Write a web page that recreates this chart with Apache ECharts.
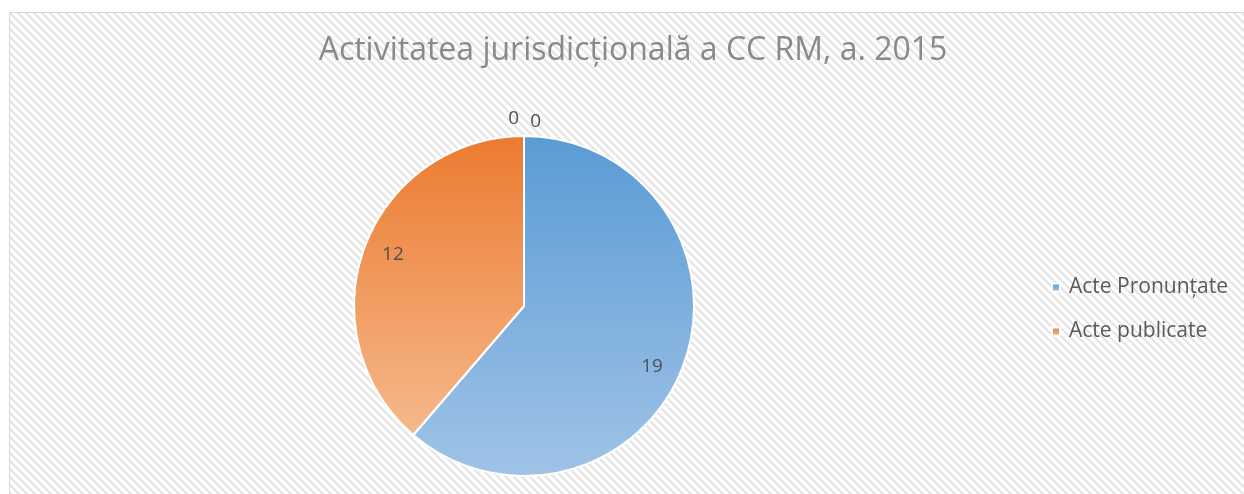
<!DOCTYPE html>
<html>
<head>
<meta charset="utf-8">
<script src="https://cdn.jsdelivr.net/npm/echarts@6/dist/echarts.min.js"></script>
<style>
  body { margin: 0; background: #fff; }
  #wrap { position: absolute; left: 9px; top: 12px; width: 1235px; height: 482px;
          border-left: 1px solid #d9d9d9; border-top: 1px solid #d9d9d9; }
  #chart { width: 1235px; height: 482px; }
</style>
</head>
<body>
<div id="wrap"><div id="chart"></div></div>
<script>
var titleText = 'Activitatea jurisdicțională a CC RM, a. 2015';
var categories = ['', 'Acte Pronunțate', 'Acte publicate', ' '];
var values = [0, 19, 12, 0];
var legendNames = ['Acte Pronunțate', 'Acte publicate'];

// hatched background tile
var tile = document.createElement('canvas');
tile.width = 8; tile.height = 8;
var ctx = tile.getContext('2d');
ctx.fillStyle = '#ffffff';
ctx.fillRect(0, 0, 8, 8);
ctx.strokeStyle = '#e4e4e4';
ctx.lineWidth = 2.2;
ctx.beginPath();
ctx.moveTo(-2, -2); ctx.lineTo(10, 10);
ctx.moveTo(-10, -2); ctx.lineTo(2, 10);
ctx.moveTo(6, -2); ctx.lineTo(18, 10);
ctx.stroke();

var blue = new echarts.graphic.LinearGradient(0, 0, 0, 1, [
    { offset: 0, color: '#5a9bd5' }, { offset: 1, color: '#a0c3e6' }]);
var orange = new echarts.graphic.LinearGradient(0, 0, 0, 1, [
    { offset: 0, color: '#ec7a30' }, { offset: 1, color: '#f5b98c' }]);
var colors = ['#5a9bd5', blue, orange, '#ec7a30'];
// small nudges so the two zero labels sit either side of the top
var zeroOffsets = [[22, -10], null, null, [0, -13]];
var innerOffsets = [null, [-6, 11], [3, -2], null];

var labelFont = { fontFamily: 'Open Sans', fontSize: 19, color: '#505050' };

var pieData = [];
var labelData = [];
for (var i = 0; i < values.length; i++) {
    var item = { name: categories[i], value: values[i], itemStyle: { color: colors[i] } };
    if (values[i] === 0) {
        item.label = { show: true, position: 'outside', offset: zeroOffsets[i] };
    }
    pieData.push(item);
    labelData.push({ name: categories[i], value: values[i],
        label: { show: values[i] !== 0, offset: innerOffsets[i] } });
}

var chart = echarts.init(document.getElementById('chart'));
chart.setOption({
    backgroundColor: { image: tile, repeat: 'repeat' },
    animation: false,
    title: {
        text: titleText,
        left: 618, top: 17, textAlign: 'center',
        textStyle: { fontFamily: 'Open Sans', fontWeight: 'normal', fontSize: 32, color: '#8a8a8a' }
    },
    legend: {
        data: legendNames,
        orient: 'vertical',
        left: 1036, top: 259,
        itemWidth: 8, itemHeight: 8, itemGap: 23,
        icon: 'rect',
        textStyle: { fontFamily: 'Open Sans', fontSize: 21, color: '#595959', padding: [0, 0, 0, 4] }
    },
    series: [{
        type: 'pie',
        center: [514, 293],
        radius: [0, 170],
        startAngle: 90,
        clockwise: true,
        avoidLabelOverlap: false,
        itemStyle: { borderColor: '#ffffff', borderWidth: 2 },
        label: Object.assign({ show: false, formatter: '{c}' }, labelFont),
        labelLine: { show: false, length: 4, length2: 0 },
        data: pieData
    }, {
        // transparent ring that only carries the value labels
        type: 'pie',
        center: [514, 293],
        radius: [110, 170],
        startAngle: 90,
        clockwise: true,
        silent: true,
        avoidLabelOverlap: false,
        itemStyle: { color: 'rgba(0,0,0,0)' },
        label: Object.assign({ position: 'inside', formatter: '{c}' }, labelFont),
        labelLine: { show: false },
        data: labelData
    }]
});
</script>
</body>
</html>
